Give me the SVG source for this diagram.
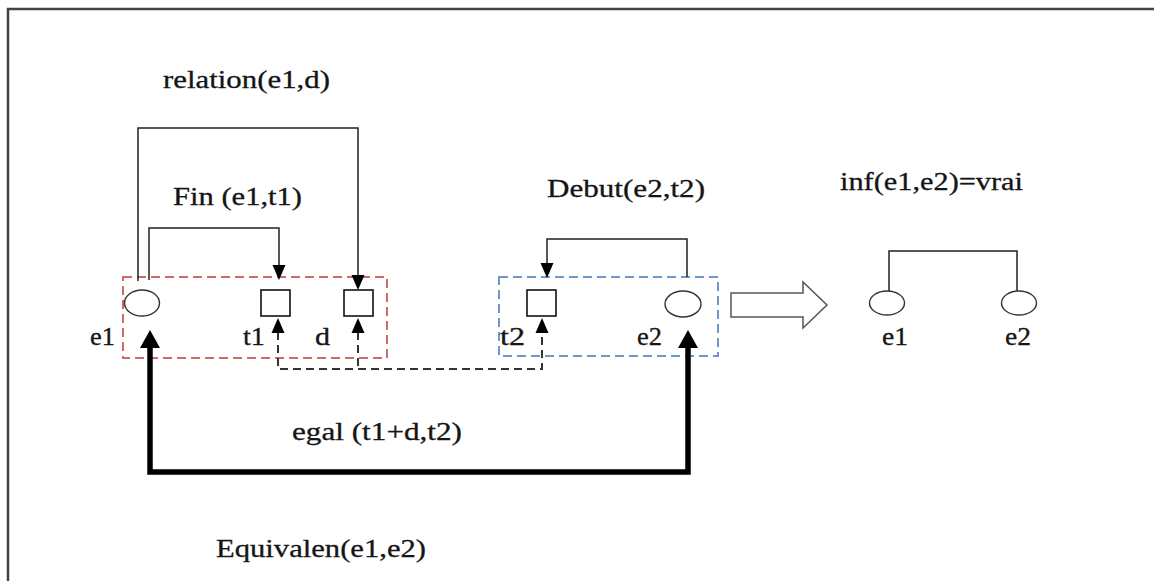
<svg xmlns="http://www.w3.org/2000/svg" width="1154" height="581" viewBox="0 0 1154 581">
  <defs>
    <style>
      .lbl { font-family: "Liberation Serif", "Times New Roman", serif; font-size: 25px; fill: #151515; stroke: #151515; stroke-width: 0.3; }
      .wire { fill: none; stroke: #222; stroke-width: 1.5; }
      .dash { fill: none; stroke: #333; stroke-width: 2; stroke-dasharray: 8 5; }
      .thick { fill: none; stroke: #000; stroke-width: 5.5; }
      .grp-red { fill: none; stroke: #d06a68; stroke-width: 2; stroke-dasharray: 9 5; }
      .grp-blue { fill: none; stroke: #6f97cc; stroke-width: 2; stroke-dasharray: 9 5; }
      .evt { fill: #fff; stroke: #333; stroke-width: 1.4; }
      .tm { fill: #fff; stroke: #111; stroke-width: 1.6; }
      .head { fill: #000; }
    </style>
  </defs>

  <rect width="1154" height="581" fill="#fff"/>

  <!-- outer frame (top and left edges) -->
  <path d="M8,581 V9 H1154" fill="none" stroke="#444" stroke-width="2.5"/>

  <!-- grouping boxes -->
  <g id="group-e1">
    <rect x="123" y="277" width="264" height="81" class="grp-red"/>
  </g>
  <g id="group-e2">
    <rect x="499" y="277" width="219" height="79" class="grp-blue"/>
  </g>

  <!-- connectors -->
  <g id="connectors">
    <!-- relation(e1,d) -->
    <path d="M138,281 V128 H358 V276" class="wire"/>
    <polygon points="358,290 351.5,275 364.5,275" class="head"/>
    <!-- Fin (e1,t1) -->
    <path d="M149,280 V228 H279 V266" class="wire"/>
    <polygon points="279,280 272.5,265 285.5,265" class="head"/>
    <!-- Debut(e2,t2) -->
    <path d="M687,277 V239 H547 V264" class="wire"/>
    <polygon points="547,278 540.5,263 553.5,263" class="head"/>
    <!-- egal (t1+d,t2) dashed links -->
    <path d="M278,332 V369 H542 V332" class="dash"/>
    <path d="M358,332 V369" class="dash"/>
    <polygon points="278,318 271.5,333 284.5,333" class="head"/>
    <polygon points="358,318 351.5,333 364.5,333" class="head"/>
    <polygon points="542,318 535.5,333 548.5,333" class="head"/>
    <!-- Equivalen(e1,e2) thick link -->
    <path d="M150,346 V472 H688 V346" class="thick" stroke-linejoin="miter"/>
    <polygon points="150,330 140,348 160,348" class="head"/>
    <polygon points="688,330 678,348 698,348" class="head"/>
    <!-- inf(e1,e2) bracket -->
    <path d="M889,291 V251 H1017 V291" class="wire"/>
    <!-- implication block arrow -->
    <polygon points="731,293 803,293 803,282 827,305 803,328 803,317 731,317" fill="#fff" stroke="#555" stroke-width="1.5"/>
  </g>

  <!-- nodes -->
  <g id="node-e1">
    <ellipse cx="142" cy="303" rx="17.5" ry="13" class="evt"/>
    <text x="90" y="345" class="lbl" textLength="25" lengthAdjust="spacingAndGlyphs">e1</text>
  </g>
  <g id="node-t1">
    <rect x="261" y="290" width="29" height="26" class="tm"/>
    <text x="243" y="345" class="lbl" textLength="22" lengthAdjust="spacingAndGlyphs">t1</text>
  </g>
  <g id="node-d">
    <rect x="344" y="290" width="29" height="26" class="tm"/>
    <text x="315" y="345" class="lbl" textLength="15" lengthAdjust="spacingAndGlyphs">d</text>
  </g>
  <g id="node-t2">
    <rect x="527" y="290" width="29" height="26" class="tm"/>
    <text x="500" y="345" class="lbl" textLength="25" lengthAdjust="spacingAndGlyphs">t2</text>
  </g>
  <g id="node-e2">
    <ellipse cx="683" cy="304" rx="18" ry="13" class="evt"/>
    <text x="637" y="345" class="lbl" textLength="25" lengthAdjust="spacingAndGlyphs">e2</text>
  </g>
  <g id="node-e1-result">
    <ellipse cx="887" cy="303" rx="17.5" ry="12" class="evt"/>
    <text x="882" y="345" class="lbl" textLength="26" lengthAdjust="spacingAndGlyphs">e1</text>
  </g>
  <g id="node-e2-result">
    <ellipse cx="1019" cy="303" rx="17.5" ry="12" class="evt"/>
    <text x="1005" y="345" class="lbl" textLength="26" lengthAdjust="spacingAndGlyphs">e2</text>
  </g>

  <!-- relation labels -->
  <g id="labels">
    <text x="163" y="88" class="lbl" textLength="167" lengthAdjust="spacingAndGlyphs">relation(e1,d)</text>
    <text x="173" y="205" class="lbl" textLength="129" lengthAdjust="spacingAndGlyphs">Fin (e1,t1)</text>
    <text x="547" y="197" class="lbl" textLength="158" lengthAdjust="spacingAndGlyphs">Debut(e2,t2)</text>
    <text x="840" y="190" class="lbl" textLength="183" lengthAdjust="spacingAndGlyphs">inf(e1,e2)=vrai</text>
    <text x="292" y="440" class="lbl" textLength="170" lengthAdjust="spacingAndGlyphs">egal (t1+d,t2)</text>
    <text x="216" y="557" class="lbl" textLength="210" lengthAdjust="spacingAndGlyphs">Equivalen(e1,e2)</text>
  </g>
</svg>
